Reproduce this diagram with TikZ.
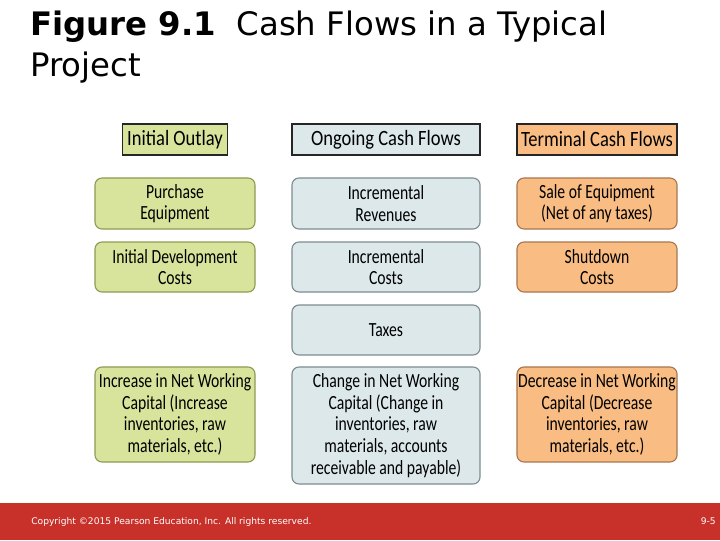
\documentclass[tikz,border=0pt]{standalone}
\usepackage{fontspec}
\setmainfont{DejaVu Sans}
\newfontfamily\boxfont[FakeStretch=0.78]{Carlito}
\newfontfamily\headfont[FakeStretch=0.85]{Carlito}
\definecolor{outlayfill}{HTML}{D8E39C}
\definecolor{outlaydraw}{HTML}{8E9C55}
\definecolor{ongoingfill}{HTML}{DCE8EA}
\definecolor{ongoingdraw}{HTML}{7E8C92}
\definecolor{terminalfill}{HTML}{F9BC83}
\definecolor{terminaldraw}{HTML}{A77850}
\definecolor{footred}{HTML}{C8302A}
\tikzset{
  head/.style={draw=black!85, line width=1.3pt, inner sep=0pt, minimum height=0.775cm,
    font=\headfont\fontsize{15.5}{15}\selectfont},
  item/.style={rounded corners=5pt, line width=0.8pt, inner sep=0pt, align=center,
    font=\boxfont\fontsize{14.3}{15.4}\selectfont},
  outlay/.style={fill=outlayfill, draw=outlaydraw, minimum width=4cm},
  ongoing/.style={fill=ongoingfill, draw=ongoingdraw, minimum width=4.7cm},
  terminal/.style={fill=terminalfill, draw=terminaldraw, minimum width=4cm}
}
\begin{document}
\begin{tikzpicture}[x=0.025cm, y=-0.025cm]
  \useasboundingbox (0,0) rectangle (720,540);
  % title
  \node [anchor=north west, align=left, inner sep=0pt, font=\fontsize{23}{29}\selectfont]
    (title) at (30,11) {\textbf{Figure 9.1}\ \ Cash Flows in a Typical\\Project};
  % column heads
  \node [head, fill=outlayfill, minimum width=2.625cm] (outlay) at (175,139.5) {Initial Outlay};
  \node [head, fill=ongoingfill, minimum width=4.7cm] (ongoing) at (386,139.5) {Ongoing Cash Flows};
  \node [head, fill=terminalfill, minimum width=4cm] (terminal) at (597,139.5) {Terminal Cash Flows};
  % initial outlay
  \node [item, outlay, minimum height=1.275cm] (purchase) at (175,203.5) {Purchase\\Equipment};
  \node [item, outlay, minimum height=1.25cm] (develop) at (175,267) {Initial Development\\Costs};
  \node [item, outlay, minimum height=2.375cm] (incnwc) at (175,414.5)
    {Increase in Net Working\\Capital (Increase\\inventories, raw\\materials, etc.)};
  % ongoing cash flows
  \node [item, ongoing, minimum height=1.275cm] (revenues) at (386,203.5) {Incremental\\Revenues};
  \node [item, ongoing, minimum height=1.25cm] (costs) at (386,267) {Incremental\\Costs};
  \node [item, ongoing, minimum height=1.25cm] (taxes) at (386,330) {Taxes};
  \node [item, ongoing, minimum height=2.925cm] (chgnwc) at (386,425.5)
    {Change in Net Working\\Capital (Change in\\inventories, raw\\materials, accounts\\receivable and payable)};
  % terminal cash flows
  \node [item, terminal, minimum height=1.275cm] (sale) at (597,203.5) {Sale of Equipment\\(Net of any taxes)};
  \node [item, terminal, minimum height=1.25cm] (shutdown) at (597,267) {Shutdown\\Costs};
  \node [item, terminal, minimum height=2.375cm] (decnwc) at (597,414.5)
    {Decrease in Net Working\\Capital (Decrease\\inventories, raw\\materials, etc.)};
  % footer
  \fill [footred] (0,503) rectangle (720,540);
  \node [anchor=west, inner sep=0pt, text=white, font=\fontsize{6.5}{8}\selectfont] (copy) at (31,521.5)
    {Copyright \textcopyright 2015 Pearson Education, Inc. All rights reserved.};
  \node [anchor=east, inner sep=0pt, text=white, font=\fontsize{6.5}{8}\selectfont] (page) at (716,521.5) {9-5};
\end{tikzpicture}
\end{document}
